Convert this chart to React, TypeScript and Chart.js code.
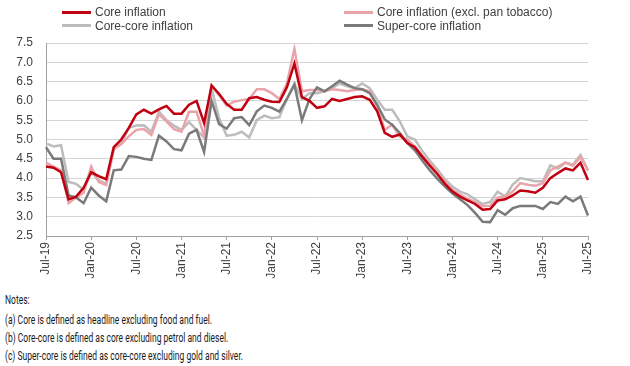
import React, { useEffect, useRef, useState } from "react";
import { Chart, registerables } from "chart.js";

Chart.register(...registerables);

const categories = [
  "Jul-19","Aug-19","Sep-19","Oct-19","Nov-19","Dec-19",
  "Jan-20","Feb-20","Mar-20","Apr-20","May-20","Jun-20","Jul-20","Aug-20","Sep-20","Oct-20","Nov-20","Dec-20",
  "Jan-21","Feb-21","Mar-21","Apr-21","May-21","Jun-21","Jul-21","Aug-21","Sep-21","Oct-21","Nov-21","Dec-21",
  "Jan-22","Feb-22","Mar-22","Apr-22","May-22","Jun-22","Jul-22","Aug-22","Sep-22","Oct-22","Nov-22","Dec-22",
  "Jan-23","Feb-23","Mar-23","Apr-23","May-23","Jun-23","Jul-23","Aug-23","Sep-23","Oct-23","Nov-23","Dec-23",
  "Jan-24","Feb-24","Mar-24","Apr-24","May-24","Jun-24","Jul-24","Aug-24","Sep-24","Oct-24","Nov-24","Dec-24",
  "Jan-25","Feb-25","Mar-25","Apr-25","May-25","Jun-25","Jul-25",
];

const coreInflation = [
  4.30, 4.27, 4.15, 3.45, 3.52, 3.75,
  4.15, 4.05, 3.97, 4.80, 5.00, 5.30, 5.65, 5.77, 5.67, 5.78, 5.87, 5.67,
  5.67, 5.90, 6.00, 5.43, 6.40, 6.18, 5.92, 5.77, 5.77, 6.07, 6.10, 6.03,
  5.98, 5.97, 6.35, 6.97, 6.10, 6.00, 5.82, 5.86, 6.05, 6.00, 6.05, 6.10,
  6.12, 6.03, 5.73, 5.17, 5.07, 5.13, 4.91, 4.80, 4.55, 4.32, 4.10, 3.85,
  3.65, 3.52, 3.42, 3.33, 3.18, 3.20, 3.42, 3.45, 3.55, 3.68, 3.66, 3.62,
  3.75, 4.00, 4.13, 4.25, 4.20, 4.40, 3.95,
];

const coreExclPanTobacco = [
  4.40, 4.30, 4.20, 3.35, 3.50, 3.62,
  4.30, 3.90, 3.82, 4.75, 4.88, 5.08, 5.25, 5.27, 5.12, 5.65, 5.47, 5.27,
  5.20, 5.72, 5.72, 5.10, 6.38, 6.15, 5.88, 5.98, 6.02, 6.05, 6.30, 6.30,
  6.20, 6.05, 6.45, 7.35, 6.25, 6.28, 6.28, 6.25, 6.30, 6.28, 6.25, 6.28,
  6.30, 6.25, 5.85, 5.25, 5.38, 5.08, 5.00, 4.82, 4.58, 4.38, 4.15, 3.92,
  3.70, 3.57, 3.47, 3.38, 3.27, 3.28, 3.50, 3.52, 3.65, 3.87, 3.83, 3.80,
  3.87, 4.20, 4.30, 4.40, 4.32, 4.55, 4.20,
];

const coreCoreInflation = [
  4.90, 4.82, 4.85, 3.90, 3.85, 3.70,
  4.15, 3.95, 3.85, 4.75, 4.90, 5.30, 5.36, 5.37, 5.20, 5.72, 5.50, 5.36,
  5.25, 5.45, 5.25, 5.05, 6.32, 5.55, 5.10, 5.12, 5.20, 5.05, 5.50, 5.62,
  5.55, 5.58, 6.05, 6.45, 6.05, 6.20, 6.20, 6.25, 6.33, 6.45, 6.38, 6.33,
  6.45, 6.33, 6.03, 5.77, 5.77, 5.47, 5.08, 5.00, 4.70, 4.45, 4.22, 3.97,
  3.78, 3.65, 3.58, 3.45, 3.33, 3.38, 3.65, 3.52, 3.83, 4.00, 3.96, 3.92,
  3.92, 4.33, 4.25, 4.40, 4.35, 4.60, 4.20,
];

const superCoreInflation = [
  4.80, 4.50, 4.50, 3.55, 3.50, 3.35,
  3.75, 3.55, 3.40, 4.20, 4.22, 4.57, 4.55, 4.50, 4.47, 5.10, 4.95, 4.75,
  4.72, 5.15, 5.25, 4.68, 6.00, 5.40, 5.28, 5.55, 5.58, 5.37, 5.73, 5.88,
  5.82, 5.72, 6.05, 6.42, 5.50, 6.05, 6.35, 6.25, 6.38, 6.52, 6.42, 6.33,
  6.30, 6.20, 5.90, 5.52, 5.38, 5.17, 4.91, 4.72, 4.45, 4.20, 3.98, 3.78,
  3.60, 3.45, 3.30, 3.10, 2.87, 2.86, 3.17, 3.05, 3.22, 3.28, 3.28, 3.28,
  3.20, 3.38, 3.33, 3.52, 3.40, 3.52, 3.03,
];

const seriesNames = [
  "Core inflation",
  "Core inflation (excl. pan tobacco)",
  "Core-core inflation",
  "Super-core inflation",
];

const notes = [
  "Notes:",
  "(a) Core is defined as headline excluding food and fuel.",
  "(b) Core-core is defined as core excluding petrol and diesel.",
  "(c) Super-core is defined as core-core excluding gold and silver.",
];

const COLORS = ["#c00010", "#eba3aa", "#bdbdbd", "#7a7a7a"];
const NOTE_FONT = "12px Roboto";

export default function App() {
  const ref = useRef<HTMLCanvasElement>(null);
  const [noteScale, setNoteScale] = useState(0.74);

  useEffect(() => {
    const m = document.createElement("canvas").getContext("2d")!;
    m.font = NOTE_FONT;
    const w = m.measureText(notes[3]).width;
    if (w > 0) setNoteScale(238 / w);

    const ctx = ref.current!.getContext("2d")!;
    const chart = new Chart(ctx, {
      type: "line",
      data: {
        labels: categories,
        datasets: [
          { label: seriesNames[0], data: coreInflation, borderColor: COLORS[0], order: 0 },
          { label: seriesNames[1], data: coreExclPanTobacco, borderColor: COLORS[1], order: 2 },
          { label: seriesNames[2], data: coreCoreInflation, borderColor: COLORS[2], order: 3 },
          { label: seriesNames[3], data: superCoreInflation, borderColor: COLORS[3], order: 1 },
        ].map((d) => ({ ...d, borderWidth: 2.5, pointRadius: 0, tension: 0, fill: false })),
      },
      options: {
        animation: false,
        responsive: false,
        maintainAspectRatio: false,
        layout: { padding: { top: 43, right: 42, left: 0, bottom: 0 } },
        plugins: { legend: { display: false }, tooltip: { enabled: false } },
        scales: {
          x: {
            grid: {
              drawOnChartArea: false,
              tickLength: 4,
              tickColor: (c: any) => (c.index % 6 === 0 ? "#a0a0a0" : "transparent"),
            },
            border: { color: "#a0a0a0" },
            ticks: {
              autoSkip: false,
              minRotation: 90,
              maxRotation: 90,
              padding: 2,
              color: "#404040",
              font: { family: "Liberation Sans, Arial, sans-serif", size: 12 },
              callback: (_v: any, i: number) => (i % 6 === 0 ? categories[i] : ""),
            },
            afterFit: (s: any) => {
              s.height = 54;
            },
          },
          y: {
            min: 2.5,
            max: 7.5,
            grid: { color: "#d4d4d4", drawTicks: false },
            border: { color: "#a0a0a0" },
            ticks: {
              stepSize: 0.5,
              padding: 13,
              color: "#404040",
              font: { family: "Liberation Sans, Arial, sans-serif", size: 12 },
              callback: (v: any) => Number(v).toFixed(1),
            },
            afterFit: (s: any) => {
              s.width = 46;
            },
          },
        },
      },
    });
    return () => chart.destroy();
  }, []);

  const legendPos = [
    { x: 62, y: 12 },
    { x: 344, y: 12 },
    { x: 62, y: 25.5 },
    { x: 344, y: 25.5 },
  ];

  return (
    <div style={{ position: "absolute", left: 0, top: 0, width: 630, height: 366, background: "#fff", overflow: "hidden" }}>
      <canvas ref={ref} width={630} height={290} style={{ position: "absolute", left: 0, top: 0, width: 630, height: 290 }} />
      {seriesNames.map((n, i) => (
        <div key={n} style={{ position: "absolute", left: legendPos[i].x, top: legendPos[i].y - 8, height: 16, display: "flex", alignItems: "center", fontFamily: "Liberation Sans, Arial, sans-serif", fontSize: 12, color: "#404040", whiteSpace: "nowrap" }}>
          <div style={{ width: 29, height: 3, background: COLORS[i], marginRight: 4 }} />
          <span>{n}</span>
        </div>
      ))}
      {notes.map((t, i) => (
        <div key={i} style={{ position: "absolute", left: 5, top: [300, 320, 338, 355.5][i] - 7, height: 14, lineHeight: "14px", fontFamily: "Roboto, sans-serif", fontSize: 12, color: "#1a1a1a", whiteSpace: "nowrap", transform: `scaleX(${noteScale})`, transformOrigin: "left center" }}>
          {t}
        </div>
      ))}
    </div>
  );
}
